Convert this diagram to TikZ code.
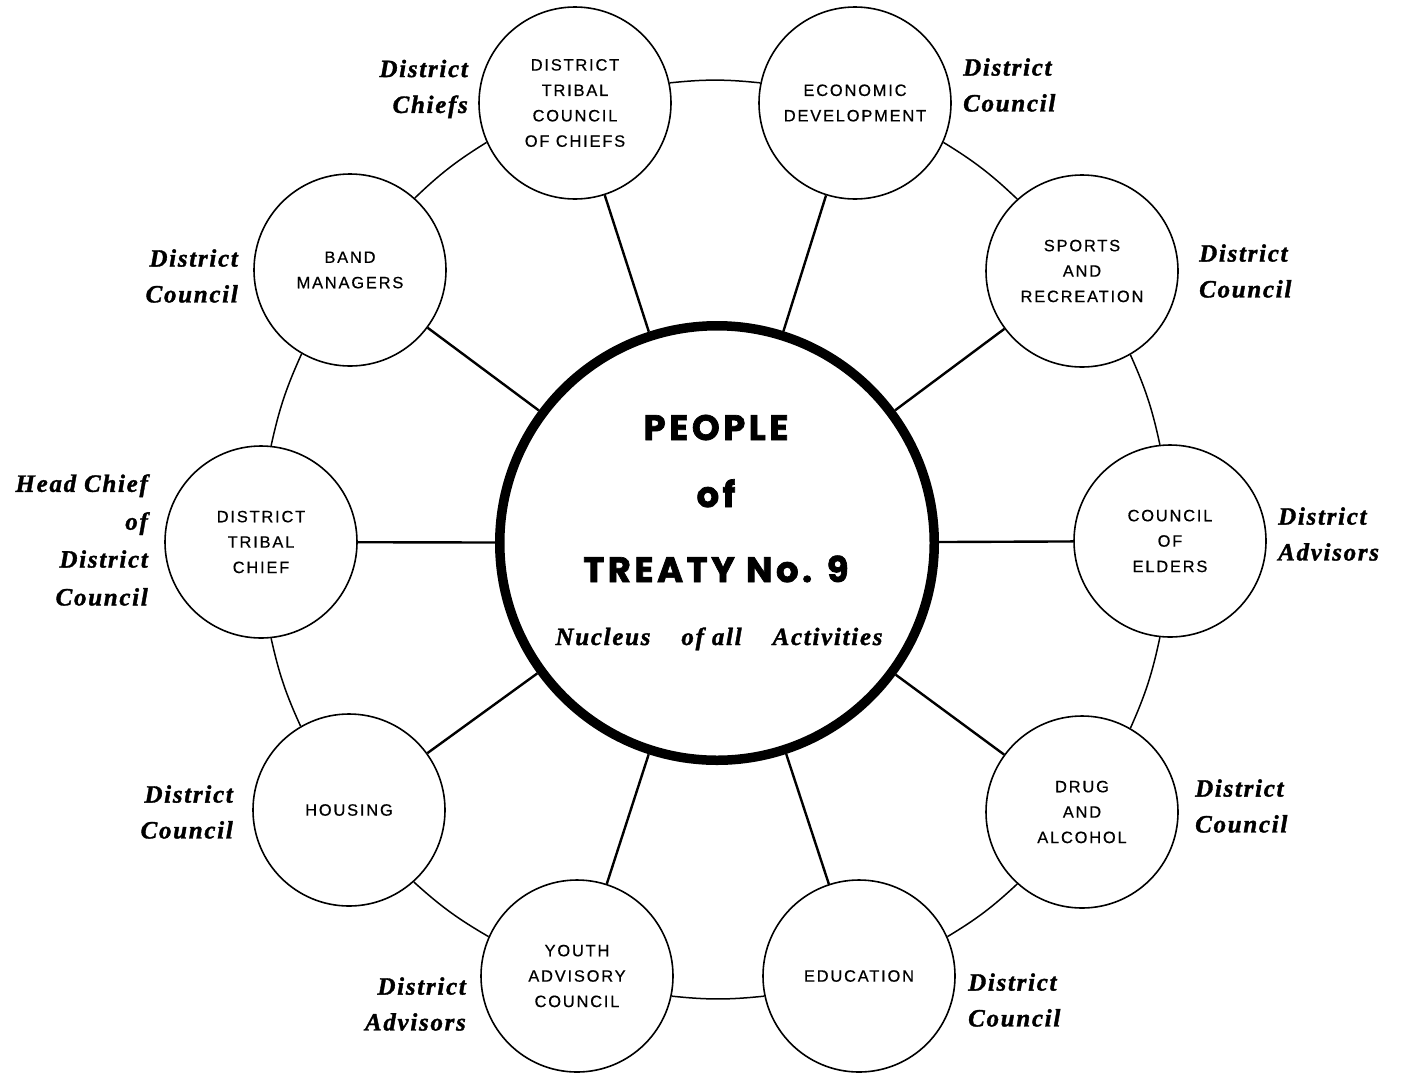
\documentclass[tikz,border=0pt]{standalone}
\usepackage{fontspec}
\setmainfont{Liberation Serif}
\newfontfamily\circfont{Liberation Sans}[LetterSpace=11,FakeBold=0.6]
\newfontfamily\labfont{Liberation Serif}[LetterSpace=7,FakeBold=1.4]
\newfontfamily\heavyfont{Poppins}[LetterSpace=10,FakeBold=2]
\begin{document}
\begin{tikzpicture}[x=1bp,y=-1bp,
  unit/.style={circle,draw,line width=1.6bp,minimum size=192bp,inner sep=0pt,align=center,
    font=\circfont\fontsize{16.5}{25.5}\selectfont},
  ringarc/.style={line width=1.5bp},
  spoke/.style={line width=2.4bp},
  lab/.style={inner sep=0pt,font=\labfont\bfseries\itshape\fontsize{25}{36}\selectfont},
  hubtext/.style={anchor=base,inner sep=0pt,font=\heavyfont\bfseries\fontsize{35.5}{35.5}\selectfont}
]
\useasboundingbox (0,0) rectangle (1404,1074);

\node[circle,draw,line width=9.5bp,minimum size=434.5bp,inner sep=0pt] (hub) at (717,543) {};

\node[unit] (dtcc)  at (575,103) {DISTRICT\\TRIBAL\\COUNCIL\\OF CHIEFS};
\node[unit] (econ)  at (855,103) {ECONOMIC\\DEVELOPMENT};
\node[unit] (sport) at (1082,271) {SPORTS\\AND\\RECREATION};
\node[unit] (elder) at (1170,541) {COUNCIL\\OF\\ELDERS};
\node[unit] (drug)  at (1082,812) {DRUG\\AND\\ALCOHOL};
\node[unit] (edu)   at (859,976) {EDUCATION};
\node[unit] (youth) at (577,976) {YOUTH\\ADVISORY\\COUNCIL};
\node[unit] (house) at (349,810) {HOUSING};
\node[unit] (chief) at (261,542) {DISTRICT\\TRIBAL\\CHIEF};
\node[unit] (band)  at (350,270) {BAND\\MANAGERS};

\foreach \n in {dtcc,econ,sport,elder,drug,edu,youth,house,chief,band}
  \draw[spoke] (hub) -- (\n);

\draw[ringarc] (elder.96)  to[bend right=6] (sport.300);
\draw[ringarc] (sport.132) to[bend right=6] (econ.336);
\draw[ringarc] (econ.168)  to[bend right=6] (dtcc.12);
\draw[ringarc] (dtcc.204)  to[bend right=6] (band.48);
\draw[ringarc] (band.240)  to[bend right=6] (chief.84);
\draw[ringarc] (chief.276) to[bend right=6] (house.120);
\draw[ringarc] (house.312) to[bend right=6] (youth.156);
\draw[ringarc] (youth.348) to[bend right=6] (edu.192);
\draw[ringarc] (edu.24)    to[bend right=6] (drug.228);
\draw[ringarc] (drug.60)   to[bend right=6] (elder.264);

\node[hubtext] (t1) at (716,440) {PEOPLE};
\node[hubtext] (t2) at (716,507) {of};
\node[hubtext] (t3) at (716,582) {TREATY No. 9};
\node[lab,anchor=base] (t4) at (719,645) {Nucleus\hspace{31bp}of all\hspace{31bp}Activities};

\node[lab,anchor=east,align=right] (l1) at (468,89) {District\\Chiefs};
\node[lab,anchor=west,align=left] (l2) at (963,85) {District\\Council};
\node[lab,anchor=west,align=left] (l3) at (1199,271) {District\\Council};
\node[lab,anchor=west,align=left] (l4) at (1278,534) {District\\Advisors};
\node[lab,anchor=west,align=left] (l5) at (1195,806) {District\\Council};
\node[lab,anchor=west,align=left] (l6) at (968,1000) {District\\Council};
\node[lab,anchor=east,align=right] (l7) at (466,1004) {District\\Advisors};
\node[lab,anchor=east,align=right] (l8) at (233,812) {District\\Council};
\node[lab,anchor=east,align=right,font=\labfont\bfseries\itshape\fontsize{25}{38}\selectfont] (l9) at (148,540) {Head Chief\\of\\District\\Council};
\node[lab,anchor=east,align=right] (l10) at (238,276) {District\\Council};
\end{tikzpicture}
\end{document}
